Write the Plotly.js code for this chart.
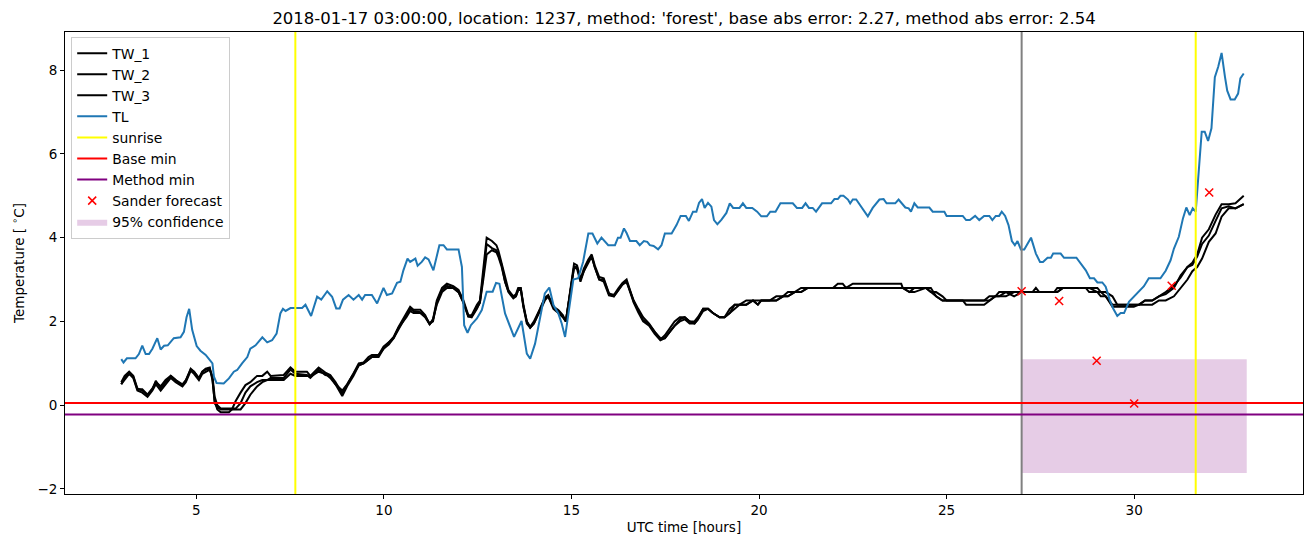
<!DOCTYPE html>
<html><head><meta charset="utf-8">
<script src="https://cdn.plot.ly/plotly-3.0.1.min.js"></script>
<style>html,body{margin:0;padding:0;background:#fff}#chart{width:1313px;height:547px}</style>
</head><body><div id="chart"></div>
<script>
// ---- data ----
const TL_T = [3.0,3.06,3.15,3.38,3.47,3.56,3.65,3.74,3.83,3.96,4.05,4.14,4.24,4.4,4.58,4.67,4.74,4.81,4.89,5.01,5.11,5.25,5.34,5.43,5.47,5.54,5.73,5.87,6.0,6.09,6.22,6.36,6.44,6.58,6.76,6.89,7.02,7.14,7.24,7.31,7.38,7.51,7.82,7.91,8.06,8.22,8.33,8.49,8.62,8.73,8.82,8.91,9.06,9.19,9.33,9.42,9.5,9.68,9.82,9.99,10.08,10.22,10.35,10.44,10.52,10.63,10.7,10.84,10.9,11.01,11.1,11.19,11.32,11.48,11.59,11.68,11.99,12.08,12.14,12.23,12.32,12.48,12.61,12.74,12.9,12.99,13.08,13.23,13.47,13.67,13.81,13.9,14.03,14.16,14.29,14.41,14.52,14.65,14.74,14.83,14.96,15.05,15.18,15.31,15.45,15.56,15.69,15.8,15.98,16.16,16.24,16.31,16.4,16.47,16.56,16.73,16.82,16.93,17.02,17.09,17.19,17.31,17.4,17.49,17.67,17.8,17.91,18.05,18.13,18.24,18.33,18.4,18.48,18.55,18.64,18.73,18.8,18.89,19.0,19.13,19.22,19.31,19.48,19.57,19.66,19.82,19.95,20.06,20.21,20.3,20.44,20.57,20.9,21.01,21.15,21.24,21.33,21.43,21.52,21.68,21.92,22.01,22.1,22.17,22.25,22.37,22.43,22.5,22.59,22.75,22.9,23.03,23.21,23.32,23.4,23.63,23.72,23.9,23.99,24.05,24.14,24.23,24.54,24.63,24.94,25.0,25.43,25.52,25.62,25.76,25.87,26.0,26.14,26.22,26.31,26.4,26.47,26.56,26.65,26.74,26.82,26.89,26.98,27.07,27.13,27.25,27.38,27.49,27.57,27.69,27.78,27.84,28.04,28.13,28.46,28.58,28.71,28.82,28.93,29.02,29.15,29.24,29.35,29.44,29.55,29.64,29.73,29.86,29.99,30.13,30.26,30.39,30.7,30.84,30.97,31.06,31.19,31.3,31.39,31.48,31.56,31.64,31.71,31.8,31.88,31.97,32.06,32.15,32.24,32.33,32.42,32.48,32.57,32.68,32.77,32.83,32.92];
const TL_V = [1.1,1.02,1.12,1.12,1.22,1.42,1.22,1.22,1.35,1.6,1.33,1.42,1.43,1.6,1.62,1.75,2.1,2.3,1.8,1.41,1.3,1.2,1.1,1.0,0.68,0.53,0.52,0.64,0.8,0.84,1.0,1.15,1.35,1.43,1.62,1.5,1.55,1.71,2.19,2.3,2.25,2.32,2.32,2.4,2.13,2.59,2.52,2.72,2.59,2.31,2.31,2.52,2.63,2.52,2.63,2.52,2.63,2.63,2.43,2.8,2.63,2.67,2.92,2.95,3.22,3.5,3.42,3.5,3.33,3.42,3.53,3.48,3.22,3.82,3.82,3.72,3.72,3.3,1.91,1.73,1.91,2.07,2.27,2.71,2.71,2.92,2.9,2.19,1.63,2.01,1.23,1.11,1.47,2.11,2.67,2.81,2.39,2.19,1.95,1.63,2.51,3.0,3.03,3.42,4.1,4.1,3.86,4.0,3.82,3.82,4.0,4.0,4.22,4.11,3.92,3.92,3.82,3.92,3.9,3.82,3.8,3.72,3.82,4.1,4.1,4.3,4.52,4.52,4.4,4.62,4.62,4.83,4.92,4.71,4.83,4.74,4.42,4.32,4.43,4.59,4.82,4.71,4.71,4.82,4.71,4.71,4.62,4.51,4.51,4.62,4.62,4.82,4.82,4.71,4.71,4.82,4.71,4.71,4.62,4.82,4.82,4.92,4.92,5.0,5.0,4.91,4.82,4.91,4.91,4.71,4.51,4.71,4.91,4.92,4.82,4.82,4.91,4.72,4.7,4.62,4.82,4.72,4.72,4.62,4.62,4.52,4.52,4.42,4.42,4.52,4.42,4.52,4.52,4.42,4.52,4.52,4.62,4.52,4.3,3.92,3.82,3.92,3.72,3.72,3.82,4.0,3.62,3.42,3.42,3.52,3.52,3.62,3.62,3.52,3.52,3.38,3.22,3.03,3.03,2.93,2.93,2.83,2.51,2.31,2.13,2.2,2.2,2.47,2.59,2.73,2.84,3.03,3.03,3.21,3.46,3.74,4.02,4.46,4.72,4.54,4.7,4.62,5.45,6.53,6.53,6.31,6.61,7.83,8.08,8.41,7.84,7.51,7.3,7.3,7.44,7.8,7.92];

const TW_T = [3.0,3.09,3.21,3.32,3.43,3.56,3.7,3.83,3.92,4.05,4.18,4.32,4.45,4.63,4.72,4.85,4.94,5.07,5.16,5.25,5.36,5.43,5.49,5.56,5.65,5.87,5.95,6.05,6.18,6.31,6.44,6.62,6.76,6.89,6.98,7.33,7.51,7.64,7.95,8.04,8.26,8.44,8.57,8.71,8.89,9.02,9.19,9.33,9.46,9.59,9.68,9.86,9.99,10.13,10.26,10.39,10.48,10.6,10.7,10.79,10.97,11.1,11.22,11.31,11.41,11.55,11.68,11.85,11.99,12.12,12.25,12.34,12.48,12.56,12.65,12.74,12.88,13.0,13.05,13.14,13.23,13.32,13.45,13.52,13.58,13.65,13.72,13.81,13.9,14.0,14.16,14.29,14.38,14.52,14.65,14.77,14.85,14.96,15.07,15.15,15.24,15.33,15.45,15.54,15.62,15.74,15.86,16.0,16.13,16.25,16.36,16.47,16.56,16.66,16.78,16.91,17.07,17.22,17.37,17.49,17.62,17.75,17.89,18.02,18.15,18.28,18.37,18.51,18.64,18.77,18.95,19.08,19.22,19.35,19.48,19.66,19.84,19.97,20.06,20.28,20.46,20.64,20.77,20.95,21.12,21.3,21.97,22.1,22.23,22.32,22.5,23.79,23.83,24.01,24.14,24.45,24.58,24.72,24.89,25.0,25.43,25.52,26.0,26.14,26.3,26.4,26.58,26.8,27.0,27.29,27.38,27.47,27.87,27.95,28.1,28.71,28.8,29.02,29.11,29.24,29.42,29.55,29.99,30.13,30.29,30.48,30.66,30.84,31.06,31.24,31.42,31.55,31.68,31.81,31.99,32.17,32.33,32.52,32.7,32.92];
const TW_1 = [0.5,0.65,0.78,0.68,0.38,0.38,0.25,0.38,0.58,0.4,0.55,0.7,0.6,0.47,0.58,0.87,0.8,0.63,0.8,0.87,0.9,0.6,0.1,-0.1,-0.17,-0.17,-0.1,0.1,0.3,0.48,0.55,0.7,0.7,0.8,0.7,0.72,0.9,0.8,0.8,0.7,0.9,0.78,0.72,0.55,0.28,0.48,0.76,1.0,1.02,1.15,1.2,1.2,1.4,1.5,1.63,1.87,2.0,2.2,2.35,2.28,2.28,2.15,1.93,2.05,2.5,2.8,2.9,2.84,2.75,2.5,2.15,2.15,2.4,2.5,3.3,4.0,3.92,3.82,3.7,3.38,3.0,2.75,2.6,2.65,2.8,2.8,2.35,2.0,1.87,2.0,2.3,2.57,2.63,2.35,2.27,2.15,2.0,2.67,3.38,3.34,3.0,3.26,3.48,3.6,3.34,3.06,3.03,2.67,2.63,2.79,2.92,3.0,2.75,2.47,2.27,2.03,1.93,1.75,1.57,1.67,1.83,2.0,2.1,2.1,2.0,2.0,2.1,2.3,2.3,2.2,2.1,2.1,2.3,2.4,2.4,2.5,2.5,2.4,2.5,2.5,2.6,2.6,2.7,2.7,2.8,2.8,2.8,2.9,2.9,2.8,2.9,2.9,2.8,2.7,2.8,2.8,2.7,2.6,2.5,2.5,2.5,2.5,2.5,2.6,2.6,2.6,2.7,2.7,2.7,2.7,2.8,2.7,2.7,2.8,2.8,2.8,2.7,2.7,2.6,2.6,2.4,2.4,2.4,2.4,2.5,2.5,2.6,2.7,2.85,3.05,3.3,3.4,3.6,4.0,4.2,4.55,4.8,4.8,4.82,5.0];
const TW_2 = [0.5,0.6,0.75,0.65,0.35,0.3,0.2,0.35,0.5,0.35,0.5,0.65,0.55,0.45,0.55,0.82,0.75,0.6,0.75,0.8,0.85,0.7,0.2,0.0,-0.08,-0.08,-0.08,-0.08,0.05,0.3,0.45,0.55,0.6,0.6,0.65,0.65,0.85,0.75,0.72,0.65,0.85,0.72,0.7,0.5,0.35,0.5,0.75,0.95,1.0,1.1,1.15,1.2,1.35,1.5,1.6,1.8,1.95,2.15,2.3,2.25,2.22,2.12,1.95,2.0,2.45,2.75,2.85,2.8,2.7,2.45,2.12,2.12,2.35,2.45,3.1,3.85,3.75,3.7,3.6,3.35,2.95,2.72,2.58,2.6,2.75,2.78,2.4,2.0,1.85,1.95,2.28,2.55,2.6,2.35,2.25,2.12,2.0,2.6,3.3,3.3,3.0,3.2,3.45,3.55,3.3,3.0,3.0,2.65,2.6,2.75,2.9,2.95,2.75,2.5,2.3,2.1,1.95,1.75,1.6,1.6,1.75,1.9,2.05,2.1,2.0,1.95,2.05,2.3,2.3,2.2,2.1,2.1,2.2,2.4,2.4,2.4,2.5,2.5,2.5,2.5,2.5,2.6,2.6,2.7,2.7,2.8,2.8,2.8,2.8,2.8,2.8,2.8,2.8,2.8,2.8,2.8,2.7,2.7,2.6,2.5,2.5,2.4,2.4,2.5,2.6,2.6,2.6,2.7,2.7,2.7,2.7,2.7,2.7,2.7,2.8,2.8,2.8,2.8,2.7,2.7,2.6,2.4,2.4,2.4,2.4,2.4,2.5,2.5,2.6,2.8,3.0,3.2,3.3,3.5,3.9,4.1,4.5,4.7,4.7,4.8,4.85];
const TW_3 = [0.55,0.7,0.8,0.7,0.4,0.35,0.25,0.4,0.55,0.45,0.6,0.7,0.6,0.5,0.6,0.85,0.8,0.65,0.8,0.85,0.85,0.65,0.05,-0.05,-0.1,-0.1,-0.1,-0.1,-0.1,0.05,0.25,0.45,0.55,0.6,0.6,0.6,0.75,0.7,0.7,0.68,0.8,0.75,0.65,0.5,0.22,0.45,0.7,0.95,1.0,1.1,1.15,1.15,1.35,1.45,1.6,1.85,1.95,2.1,2.25,2.2,2.2,2.1,1.93,2.05,2.4,2.7,2.8,2.8,2.7,2.45,2.12,2.1,2.3,2.45,3.0,3.6,3.7,3.65,3.55,3.3,2.95,2.7,2.55,2.6,2.75,2.75,2.35,1.95,1.85,1.95,2.25,2.5,2.6,2.3,2.2,2.1,2.0,2.6,3.3,3.25,2.95,3.2,3.4,3.55,3.3,3.0,2.95,2.62,2.6,2.75,2.88,2.95,2.7,2.45,2.22,2.0,1.9,1.7,1.55,1.6,1.75,1.9,2.0,2.05,1.95,1.95,2.05,2.25,2.3,2.2,2.1,2.1,2.2,2.3,2.4,2.4,2.5,2.4,2.5,2.5,2.5,2.6,2.6,2.7,2.7,2.8,2.8,2.8,2.8,2.8,2.8,2.8,2.8,2.7,2.7,2.8,2.8,2.6,2.5,2.5,2.5,2.5,2.5,2.5,2.6,2.7,2.7,2.6,2.7,2.7,2.7,2.7,2.7,2.7,2.8,2.8,2.8,2.7,2.7,2.6,2.35,2.35,2.35,2.4,2.5,2.5,2.6,2.65,2.8,3.1,3.3,3.35,3.55,3.85,4.05,4.4,4.7,4.75,4.7,4.8];

const SUNRISE = [7.64, 31.64];
const FORECAST_START = 27.0;
const BASE_MIN = 0.05;
const METHOD_MIN = -0.22;
const SANDER_T = [27, 28, 29, 30, 31, 32];
const SANDER_V = [2.72, 2.49, 1.06, 0.04, 2.85, 5.08];
const CONF_T = [27, 33];
const CONF_BOUNDS = [-1.62, 1.10];

const TITLE = "2018-01-17 03:00:00, location: 1237, method: 'forest', base abs error: 2.27, method abs error: 2.54";
const X_RANGE = [1.5, 34.5];
const Y_RANGE = [-2.12, 8.91];

// ---- traces ----
const FONT = "DejaVu Sans, sans-serif";
const LW = 2;
const FS = 13.9;
function vlines(xs) { const x = [], y = []; xs.forEach(v => { x.push(v, v, null); y.push(Y_RANGE[0], Y_RANGE[1], null); }); return {x, y}; }
const sr = vlines(SUNRISE);
const fs = vlines([FORECAST_START]);

const traces = [
  { x: [CONF_T[0], CONF_T[1], CONF_T[1], CONF_T[0], CONF_T[0]],
    y: [CONF_BOUNDS[0], CONF_BOUNDS[0], CONF_BOUNDS[1], CONF_BOUNDS[1], CONF_BOUNDS[0]],
    type: 'scatter', mode: 'lines', fill: 'toself', fillcolor: 'rgba(128,0,128,0.2)',
    line: {width: 0}, name: '95% confidence', legendrank: 9, legendgroup: 'g9', hoverinfo: 'skip' },
  { x: TW_T, y: TW_1, type: 'scatter', mode: 'lines', line: {color: '#000', width: LW}, name: 'TW_1', legendrank: 1, legendgroup: 'g1' },
  { x: TW_T, y: TW_2, type: 'scatter', mode: 'lines', line: {color: '#000', width: LW}, name: 'TW_2', legendrank: 2, legendgroup: 'g2' },
  { x: TW_T, y: TW_3, type: 'scatter', mode: 'lines', line: {color: '#000', width: LW}, name: 'TW_3', legendrank: 3, legendgroup: 'g3' },
  { x: TL_T, y: TL_V, type: 'scatter', mode: 'lines', line: {color: '#1f77b4', width: LW}, name: 'TL', legendrank: 4, legendgroup: 'g4' },
  { x: fs.x, y: fs.y, type: 'scatter', mode: 'lines', line: {color: '#808080', width: LW}, showlegend: false, hoverinfo: 'skip' },
  { x: sr.x, y: sr.y, type: 'scatter', mode: 'lines', line: {color: '#ffff00', width: LW}, name: 'sunrise', legendrank: 5, legendgroup: 'g5' },
  { x: X_RANGE, y: [BASE_MIN, BASE_MIN], type: 'scatter', mode: 'lines', line: {color: '#ff0000', width: LW}, name: 'Base min', legendrank: 6, legendgroup: 'g6' },
  { x: X_RANGE, y: [METHOD_MIN, METHOD_MIN], type: 'scatter', mode: 'lines', line: {color: '#800080', width: LW}, name: 'Method min', legendrank: 7, legendgroup: 'g7' },
  { x: SANDER_T, y: SANDER_V, type: 'scatter', mode: 'markers', marker: {symbol: 'x-thin', size: 8, color: '#ff0000', line: {color: '#ff0000', width: 1.5}}, name: 'Sander forecast', legendrank: 8, legendgroup: 'g8' }
];

const axisCommon = {
  showline: true, mirror: true, linecolor: '#000', linewidth: 1,
  ticks: 'outside', ticklen: 4, tickwidth: 1, tickcolor: '#000',
  showgrid: false, zeroline: false,
  tickfont: {family: FONT, size: 13.5, color: '#000'}
};

const layout = {
  width: 1313, height: 547,
  margin: {l: 65, r: 10, t: 32, b: 53},
  paper_bgcolor: '#fff', plot_bgcolor: '#fff',
  font: {family: FONT, color: '#000'},
  title: {text: TITLE, font: {family: FONT, size: 16.5, color: '#000'}, x: 0.521, xanchor: 'center', y: 0.967, yanchor: 'middle', yref: 'container'},
  xaxis: Object.assign({}, axisCommon, {range: X_RANGE, tickmode: 'linear', tick0: 0, dtick: 5,
    title: {text: 'UTC time [hours]', font: {family: FONT, size: 13.5, color: '#000'}, standoff: 5}}),
  yaxis: Object.assign({}, axisCommon, {range: Y_RANGE, tickmode: 'linear', tick0: 0, dtick: 2,
    title: {text: 'Temperature [ <sup>∘</sup>C]', font: {family: FONT, size: 13.5, color: '#000'}, standoff: 9}}),
  showlegend: true,
  legend: {x: 0.005, y: 0.99, xanchor: 'left', yanchor: 'top', bgcolor: 'rgba(255,255,255,0.8)',
    bordercolor: '#cccccc', borderwidth: 1, font: {family: FONT, size: FS, color: '#000'},
    traceorder: 'grouped', tracegroupgap: 0, itemwidth: 30}
};

Plotly.newPlot('chart', traces, layout, {displayModeBar: false, staticPlot: true});
</script>
</body></html>
